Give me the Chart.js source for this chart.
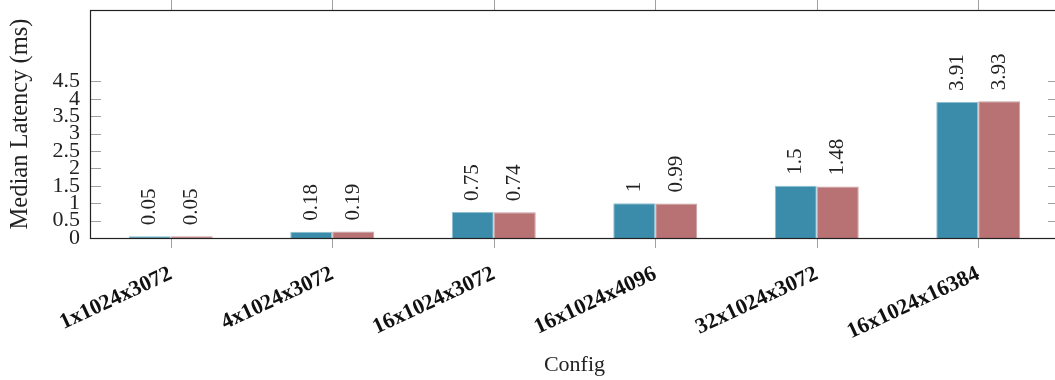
<!DOCTYPE html>
<html>
<head>
<meta charset="utf-8">
<script src="https://cdn.jsdelivr.net/npm/chart.js@4"></script>
<style>
  html, body { margin: 0; padding: 0; background: #fff; overflow: hidden; }
  #wrap { width: 1055px; height: 380px; overflow: hidden; }
  #wrap div { width: 1062px; height: 380px; }
</style>
</head>
<body>
<div id="wrap"><div><canvas id="mygraph"></canvas></div></div>
<script>
// Median latency per config, two series
var configs = ["1x1024x3072", "4x1024x3072", "16x1024x3072", "16x1024x4096", "32x1024x3072", "16x1024x16384"];
var seriesA = [0.05, 0.18, 0.75, 1, 1.5, 3.91];
var seriesB = [0.05, 0.19, 0.74, 0.99, 1.48, 3.93];
var yTicks = [0, 0.5, 1, 1.5, 2, 2.5, 3, 3.5, 4, 4.5];

var serif = "'Liberation Serif', 'DejaVu Serif', serif";

// cadre, graduations et valeurs au-dessus des barres
var framePlugin = {
    id: "frame",
    afterDatasetsDraw: function(chart) {
        var c = chart.ctx;
        var a = chart.chartArea;
        var x = chart.scales.x;
        var y = chart.scales.y;
        c.save();
        // graduations
        c.strokeStyle = "#a0a0a0";
        c.lineWidth = 1;
        c.beginPath();
        for (var i = 0; i < configs.length; i++) {
            var px = Math.round(x.getPixelForValue(i)) + 0.5;
            c.moveTo(px, a.bottom); c.lineTo(px, a.bottom + 10);
            c.moveTo(px, a.top); c.lineTo(px, a.top - 10);
        }
        for (var j = 0; j < yTicks.length; j++) {
            var py = Math.round(y.getPixelForValue(yTicks[j])) + 0.5;
            c.moveTo(a.left, py); c.lineTo(a.left + 11, py);
            c.moveTo(a.right, py); c.lineTo(a.right - 11, py);
        }
        c.stroke();
        // cadre
        c.strokeStyle = "#222";
        c.lineWidth = 1.2;
        c.strokeRect(a.left + 0.5, a.top + 0.5, a.right - a.left, a.bottom - a.top);
        // valeurs
        c.fillStyle = "#222";
        c.font = "21px " + serif;
        c.textAlign = "left";
        c.textBaseline = "middle";
        chart.data.datasets.forEach(function(ds, k) {
            var meta = chart.getDatasetMeta(k);
            meta.data.forEach(function(bar, n) {
                c.save();
                c.translate(bar.x, bar.y - 11);
                c.rotate(-Math.PI / 2);
                c.fillText(String(ds.data[n]), 0, 0);
                c.restore();
            });
        });
        c.restore();
    }
};

var ctx = document.getElementById("mygraph");
new Chart(ctx, {
    type: "bar",
    data: {
        labels: configs,
        datasets: [
            {
                data: seriesA,
                backgroundColor: "#3b8caa",
                borderColor: "#8fc0d2",
                borderWidth: 1,
                barPercentage: 1,
                categoryPercentage: 0.52
            },
            {
                data: seriesB,
                backgroundColor: "#b87274",
                borderColor: "#c9a0a2",
                borderWidth: 1,
                barPercentage: 1,
                categoryPercentage: 0.52
            }
        ]
    },
    options: {
        responsive: true,
        maintainAspectRatio: false,
        animation: false,
        layout: { padding: { top: 10, right: 3, left: 0, bottom: 0 } },
        plugins: { legend: { display: false }, tooltip: { enabled: false } },
        scales: {
            x: {
                grid: { display: false, drawTicks: false },
                border: { display: false },
                ticks: {
                    color: "#111",
                    font: { family: serif, size: 22, weight: "bold" },
                    minRotation: 25,
                    maxRotation: 25,
                    padding: 23,
                    autoSkip: false
                },
                title: {
                    display: true,
                    text: "Config",
                    color: "#222",
                    font: { family: serif, size: 22 },
                    padding: { top: 0, bottom: 2 }
                },
                afterFit: function(scale) {
                    scale.height = 142;
                    scale.paddingLeft = 0;
                    scale.paddingRight = 0;
                }
            },
            y: {
                min: 0,
                max: 6.55,
                grid: { display: false, drawTicks: false },
                border: { display: false },
                ticks: {
                    color: "#222",
                    font: { family: serif, size: 22 },
                    padding: 10,
                    autoSkip: false,
                    callback: function(v) { return String(v); }
                },
                afterBuildTicks: function(scale) {
                    scale.ticks = yTicks.map(function(v) { return { value: v }; });
                },
                title: {
                    display: true,
                    text: "Median Latency (ms)",
                    color: "#222",
                    font: { family: serif, size: 24.5 },
                    padding: { top: 6, bottom: 0 }
                },
                afterFit: function(scale) {
                    scale.width = 90;
                    scale.paddingTop = 0;
                    scale.paddingBottom = 0;
                }
            }
        }
    },
    plugins: [framePlugin]
});
</script>
</body>
</html>
